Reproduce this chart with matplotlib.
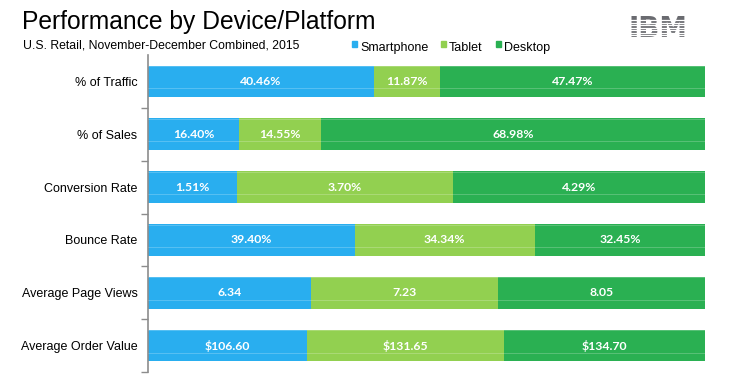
import numpy as np
import matplotlib.pyplot as plt

# Data
metrics = ['% of Traffic', '% of Sales', 'Conversion Rate', 'Bounce Rate',
           'Average Page Views', 'Average Order Value']
devices = ['Smartphone', 'Tablet', 'Desktop']
smartphone = [40.46, 16.40, 1.51, 39.40, 6.34, 106.60]
tablet = [11.87, 14.55, 3.70, 34.34, 7.23, 131.65]
desktop = [47.47, 68.98, 4.29, 32.45, 8.05, 134.70]
label_fmt = ['{:.2f}%', '{:.2f}%', '{:.2f}%', '{:.2f}%', '{:.2f}', '${:.2f}']

colors = ['#29AEEF', '#92D050', '#2AB052']

plt.rcParams['font.family'] = ['Liberation Sans', 'DejaVu Sans']

fig = plt.figure(figsize=(7.29, 3.76), dpi=100)
ax = fig.add_axes([148 / 729, 4 / 376, 557 / 729, 317 / 376])

vals = np.array([smartphone, tablet, desktop])
shares = vals / vals.sum(axis=0)
y = np.arange(len(metrics))
left = np.zeros(len(metrics))
bar_h = 0.6
for i, dev in enumerate(devices):
    ax.barh(y, shares[i], left=left, height=bar_h, color=colors[i],
            edgecolor='none', label=dev, zorder=2)
    for j in range(len(metrics)):
        ax.text(left[j] + shares[i][j] / 2, y[j], label_fmt[j].format(vals[i][j]),
                ha='center', va='center', color='white', fontsize=8.8,
                family=['Lato', 'DejaVu Sans'], fontweight='bold', zorder=4)
    left += shares[i]

# faint highlight lines inside the bars
for j in y:
    ax.hlines([j - bar_h / 2 + 0.01, j + bar_h * 0.22], 0, 1, color='white',
              lw=0.6, alpha=0.25, zorder=3)

ax.set_xlim(0, 1)
ax.set_ylim(len(metrics) - 0.5, -0.5)
ax.set_yticks(y)
ax.set_yticklabels(metrics, fontsize=9)
ax.set_yticks(np.arange(1, len(metrics) + 1) - 0.5, minor=True)
ax.tick_params(axis='y', which='major', length=0, pad=7.5)
ax.tick_params(axis='y', which='minor', length=5, color='#8c8c8c', width=1)
ax.set_xticks([])
for s in ['top', 'right', 'bottom']:
    ax.spines[s].set_visible(False)
ax.spines['left'].set_color('#8c8c8c')
ax.spines['left'].set_linewidth(1.2)

# Titles
fig.text(22 / 729, 1 - 22 / 376, 'Performance by Device/Platform', fontsize=17.7,
         va='center', ha='left')
fig.text(23 / 729, 1 - 45 / 376, 'U.S. Retail, November-December Combined, 2015',
         fontsize=8.8, va='center', ha='left')

# Legend
leg_x = [352, 441, 496]
for i, dev in enumerate(devices):
    fig.patches.append(plt.Rectangle((leg_x[i] / 729, 1 - 47 / 376), 5 / 729, 6 / 376,
                                     transform=fig.transFigure, color=colors[i]))
    fig.text((leg_x[i] + 8) / 729, 1 - 48 / 376, dev, fontsize=9, va='center', ha='left')

# IBM logo (striped)
fig.text(658 / 729, 1 - 29 / 376, 'IBM', fontsize=20, fontweight='bold',
         color='#6a6b70', ha='center', va='center', family=['DejaVu Sans'], zorder=5)
for k in range(8):
    yy = 1 - (20.2 + k * 2.5) / 376
    fig.add_artist(plt.Line2D([620 / 729, 695 / 729], [yy, yy], transform=fig.transFigure,
                              color='white', lw=0.9, zorder=6))

fig.savefig('out.png', dpi=100)
